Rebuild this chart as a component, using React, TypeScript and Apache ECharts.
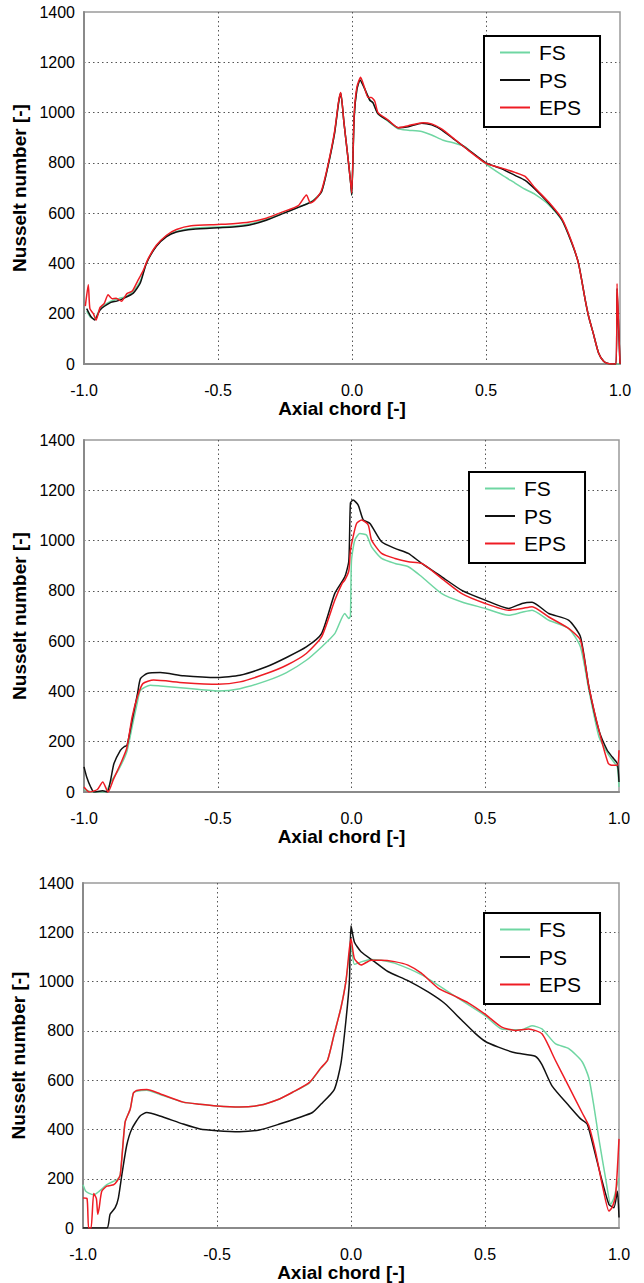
import React, { useEffect, useRef } from "react";
import * as echarts from "echarts";

// Axis ticks
const xTicks = [-1.0, -0.5, 0.0, 0.5, 1.0];
const yTicks = [0, 200, 400, 600, 800, 1000, 1200, 1400];
const seriesNames = ["FS", "PS", "EPS"];

// Panel 1
const p1FS: number[][] = [
  [-0.99, 210], [-0.975, 185], [-0.96, 180], [-0.94, 220], [-0.9, 250], [-0.87, 260], [-0.84, 270],
  [-0.816, 290], [-0.79, 330], [-0.767, 400], [-0.73, 470], [-0.692, 510], [-0.655, 527], [-0.593, 540],
  [-0.5, 545], [-0.444, 548], [-0.382, 557], [-0.32, 575], [-0.258, 600], [-0.196, 625], [-0.146, 650],
  [-0.114, 684], [-0.09, 785], [-0.065, 918], [-0.05, 1040], [-0.042, 1077], [-0.03, 960], [-0.015, 820],
  [-0.005, 720], [-0.001, 672], [0.008, 980], [0.018, 1090], [0.03, 1130], [0.045, 1100], [0.066, 1050],
  [0.078, 1040], [0.097, 995], [0.135, 965], [0.172, 935], [0.21, 930], [0.26, 925], [0.297, 911],
  [0.34, 890], [0.384, 878], [0.42, 865], [0.46, 830], [0.5, 795], [0.559, 752], [0.6, 725], [0.646, 695],
  [0.683, 675], [0.733, 635], [0.783, 572], [0.82, 481], [0.845, 401], [0.87, 256], [0.883, 189],
  [0.9, 123], [0.92, 44], [0.939, 11], [0.955, 2], [1.0, 0],
];
const p1PS: number[][] = [
  [-0.99, 220], [-0.975, 190], [-0.96, 175], [-0.94, 215], [-0.9, 245], [-0.878, 250], [-0.85, 262],
  [-0.816, 282], [-0.79, 322], [-0.767, 401], [-0.73, 468], [-0.692, 507], [-0.655, 525], [-0.593, 536],
  [-0.5, 542], [-0.444, 545], [-0.382, 553], [-0.32, 572], [-0.258, 598], [-0.196, 625], [-0.146, 648],
  [-0.114, 684], [-0.09, 785], [-0.065, 918], [-0.05, 1040], [-0.042, 1077], [-0.03, 960], [-0.015, 820],
  [-0.005, 720], [-0.001, 672], [0.008, 980], [0.018, 1090], [0.03, 1130], [0.045, 1100], [0.066, 1050],
  [0.078, 1040], [0.097, 995], [0.135, 968], [0.172, 940], [0.21, 944], [0.26, 958], [0.297, 951],
  [0.334, 931], [0.384, 891], [0.434, 852], [0.5, 800], [0.559, 776], [0.608, 750], [0.646, 730],
  [0.683, 695], [0.733, 640], [0.783, 574], [0.82, 481], [0.845, 401], [0.87, 256], [0.883, 189],
  [0.9, 123], [0.92, 44], [0.939, 11], [0.955, 2], [0.985, 0], [0.989, 300], [0.995, 140], [1.0, 0],
];
const p1EPS: number[][] = [
  [-0.995, 230], [-0.984, 315], [-0.978, 220], [-0.965, 200], [-0.955, 175], [-0.94, 225], [-0.925, 240],
  [-0.91, 275], [-0.895, 260], [-0.88, 262], [-0.86, 250], [-0.84, 280], [-0.82, 290], [-0.8, 330],
  [-0.78, 370], [-0.76, 420], [-0.73, 472], [-0.692, 512], [-0.655, 535], [-0.6, 550], [-0.5, 555],
  [-0.444, 558], [-0.382, 565], [-0.32, 580], [-0.258, 605], [-0.2, 630], [-0.17, 672], [-0.155, 640],
  [-0.14, 650], [-0.114, 690], [-0.09, 790], [-0.065, 925], [-0.05, 1045], [-0.042, 1080], [-0.03, 960],
  [-0.015, 820], [-0.005, 720], [-0.001, 680], [0.008, 990], [0.018, 1100], [0.032, 1140], [0.045, 1105],
  [0.06, 1060], [0.072, 1060], [0.085, 1045], [0.097, 1000], [0.135, 970], [0.172, 940], [0.21, 948],
  [0.265, 960], [0.297, 955], [0.334, 935], [0.384, 893], [0.434, 850], [0.5, 798], [0.559, 779],
  [0.608, 762], [0.646, 746], [0.683, 700], [0.733, 645], [0.783, 578], [0.82, 485], [0.845, 400],
  [0.87, 256], [0.883, 189], [0.9, 123], [0.92, 44], [0.939, 11], [0.955, 2], [0.985, 0], [0.989, 320],
  [0.995, 150], [1.0, 0],
];

// Panel 2
const p2FS: number[][] = [
  [-1, 10], [-0.97, 0], [-0.92, 0], [-0.9, 40], [-0.87, 90], [-0.84, 160], [-0.82, 260], [-0.8, 360],
  [-0.789, 405], [-0.752, 425], [-0.715, 422], [-0.628, 414], [-0.5, 402], [-0.417, 411], [-0.318, 442],
  [-0.243, 475], [-0.169, 524], [-0.112, 577], [-0.0625, 630], [-0.025, 710], [-0.01, 690], [-0.004, 700],
  [0.0, 922], [0.0125, 1002], [0.031, 1028], [0.056, 1022], [0.075, 975], [0.1125, 929], [0.1625, 909],
  [0.2125, 896], [0.2625, 856], [0.3375, 789], [0.4125, 756], [0.5, 730], [0.5875, 703], [0.6375, 715],
  [0.675, 723], [0.7375, 683], [0.8125, 650], [0.856, 577], [0.8875, 405], [0.925, 220], [0.96, 150],
  [0.985, 113], [0.994, 100], [1.0, 20],
];
const p2PS: number[][] = [
  [-1, 100], [-0.99, 60], [-0.975, 20], [-0.963, 0], [-0.93, 5], [-0.913, 0], [-0.9, 50], [-0.888, 113],
  [-0.864, 166], [-0.85, 180], [-0.839, 186], [-0.82, 285], [-0.8, 391], [-0.789, 451], [-0.764, 471],
  [-0.715, 475], [-0.628, 462], [-0.5, 455], [-0.417, 464], [-0.318, 498], [-0.243, 535], [-0.169, 577],
  [-0.112, 630], [-0.0625, 790], [-0.025, 856], [-0.01, 920], [-0.004, 1150], [0.006, 1161], [0.025, 1141],
  [0.044, 1082], [0.069, 1068], [0.1125, 995], [0.1625, 969], [0.2125, 949], [0.2625, 909], [0.3375, 856],
  [0.4125, 802], [0.5, 763], [0.5875, 730], [0.6375, 750], [0.675, 755], [0.7375, 710], [0.8125, 683],
  [0.856, 617], [0.8875, 418], [0.925, 245], [0.956, 166], [0.975, 139], [0.994, 113], [1.0, 40],
];
const p2EPS: number[][] = [
  [-1, 20], [-0.98, 0], [-0.95, 10], [-0.93, 40], [-0.91, 0], [-0.89, 50], [-0.86, 120], [-0.84, 175],
  [-0.82, 299], [-0.8, 380], [-0.78, 431], [-0.74, 445], [-0.628, 435], [-0.5, 429], [-0.417, 438],
  [-0.318, 471], [-0.243, 504], [-0.169, 551], [-0.112, 617], [-0.0625, 763], [-0.035, 830], [-0.025, 843],
  [-0.01, 880], [-0.004, 960], [0.006, 1015], [0.019, 1068], [0.0375, 1082], [0.0625, 1062], [0.075, 1002],
  [0.1125, 949], [0.1625, 929], [0.2125, 916], [0.2625, 909], [0.3375, 849], [0.4125, 789], [0.5, 750],
  [0.5875, 723], [0.6375, 730], [0.675, 737], [0.7375, 696], [0.8125, 650], [0.856, 604], [0.8875, 418],
  [0.925, 245], [0.96, 113], [0.975, 106], [0.994, 106], [1.0, 166],
];

// Panel 3
const p3FS: number[][] = [
  [-1, 176], [-0.99, 150], [-0.979, 142], [-0.96, 135], [-0.94, 149], [-0.911, 176], [-0.886, 190],
  [-0.874, 195], [-0.861, 216], [-0.843, 429], [-0.824, 482], [-0.812, 548], [-0.8, 555], [-0.762, 559],
  [-0.713, 542], [-0.626, 511], [-0.564, 502], [-0.5, 495], [-0.416, 491], [-0.342, 498], [-0.267, 524],
  [-0.218, 551], [-0.156, 588], [-0.1125, 648], [-0.0875, 681], [-0.0625, 788], [-0.0375, 894],
  [-0.019, 1001], [-0.006, 1110], [0.0, 1150], [0.0125, 1070], [0.0375, 1080], [0.075, 1090],
  [0.1125, 1087], [0.1625, 1075], [0.2625, 1028], [0.3875, 941], [0.5, 862], [0.5625, 808], [0.6375, 805],
  [0.675, 821], [0.7125, 808], [0.7625, 748], [0.8125, 728], [0.8625, 675], [0.8875, 609], [0.906, 497],
  [0.925, 362], [0.95, 202], [0.969, 96], [0.981, 122], [0.994, 180], [1.0, 202],
];
const p3PS: number[][] = [
  [-1, 0], [-0.911, 0], [-0.899, 56], [-0.88, 83], [-0.868, 122], [-0.855, 216], [-0.837, 335],
  [-0.818, 402], [-0.787, 455], [-0.762, 469], [-0.713, 455], [-0.626, 422], [-0.564, 402], [-0.5, 395],
  [-0.416, 391], [-0.342, 398], [-0.267, 422], [-0.193, 449], [-0.144, 469], [-0.1125, 502], [-0.0625, 562],
  [-0.0375, 668], [-0.019, 841], [-0.006, 1001], [0.0, 1227], [0.0125, 1161], [0.0375, 1121], [0.0875, 1081],
  [0.1375, 1041], [0.2125, 1004], [0.2875, 958], [0.35, 911], [0.4125, 844], [0.4625, 791], [0.5, 758],
  [0.55, 734], [0.6125, 711], [0.6875, 697], [0.7125, 663], [0.75, 577], [0.8125, 497], [0.856, 444],
  [0.881, 423], [0.9, 350], [0.931, 216], [0.9625, 96], [0.981, 83], [0.994, 149], [1.0, 43],
];
const p3EPS: number[][] = [
  [-1, 122], [-0.985, 120], [-0.979, 0], [-0.97, 0], [-0.96, 140], [-0.95, 120], [-0.945, 56], [-0.94, 80],
  [-0.93, 149], [-0.911, 170], [-0.886, 176], [-0.874, 189], [-0.861, 216], [-0.843, 429], [-0.824, 482],
  [-0.812, 548], [-0.8, 558], [-0.762, 562], [-0.713, 545], [-0.626, 511], [-0.564, 502], [-0.5, 495],
  [-0.416, 491], [-0.342, 498], [-0.267, 524], [-0.218, 551], [-0.156, 590], [-0.1125, 650], [-0.0875, 681],
  [-0.0625, 788], [-0.0375, 894], [-0.019, 1001], [-0.006, 1134], [0.0, 1174], [0.0125, 1094],
  [0.0375, 1067], [0.075, 1087], [0.1125, 1087], [0.1625, 1081], [0.2125, 1067], [0.2625, 1034],
  [0.325, 974], [0.3875, 941], [0.4375, 914], [0.5, 868], [0.5625, 815], [0.6125, 802], [0.6625, 808],
  [0.7125, 788], [0.7625, 681], [0.8125, 575], [0.8625, 468], [0.8875, 415], [0.9125, 309], [0.9375, 176],
  [0.9625, 69], [0.975, 85], [0.9875, 136], [1.0, 362],
];

const panels = [
  [p1FS, p1PS, p1EPS],
  [p2FS, p2PS, p2EPS],
  [p3FS, p3PS, p3EPS],
];

const colors = ["#6fd6a2", "#111111", "#ee1c24"];
const FONT = "Liberation Sans, Arial, Helvetica, sans-serif";

const grids = [
  { left: 84, right: 24, top: 12, height: 352 },
  { left: 84, right: 25, top: 440, height: 352 },
  { left: 83, right: 25, top: 883, height: 351 },
];
const legendPos = [
  { left: 484, top: 36 },
  { left: 469, top: 472 },
  { left: 484, top: 913 },
];

export default function App() {
  const ref = useRef<HTMLDivElement>(null);
  useEffect(() => {
    document.body.style.margin = "0";
    const chart = echarts.init(ref.current!, null, { renderer: "svg" });
    const xAxis = grids.map((_, i) => ({
      type: "value",
      gridIndex: i,
      min: xTicks[0],
      max: xTicks[xTicks.length - 1],
      interval: 0.5,
      axisLine: { show: true, onZero: false, lineStyle: { color: "#8a8a8a", width: 2 } },
      axisTick: { show: false },
      axisLabel: {
        color: "#000",
        fontSize: 16,
        margin: 18,
        fontFamily: FONT,
        formatter: (v: number) => v.toFixed(1),
      },
      splitLine: {
        show: true,
        showMinLine: false,
        showMaxLine: false,
        lineStyle: { type: [1.5, 3], color: "#555", width: 1 },
      },
      name: "Axial chord [-]",
      nameLocation: "middle",
      nameGap: 30,
      nameTextStyle: {
        fontSize: 19,
        fontWeight: "bold",
        color: "#000",
        fontFamily: FONT,
        padding: [0, 20, 0, 0],
      },
    }));
    const yAxis = grids.map((_, i) => ({
      type: "value",
      gridIndex: i,
      min: yTicks[0],
      max: yTicks[yTicks.length - 1],
      interval: 200,
      axisLine: { show: true, onZero: false, lineStyle: { color: "#8a8a8a", width: 2 } },
      axisTick: { show: false },
      axisLabel: {
        color: "#000",
        fontSize: 16,
        margin: 9,
        fontFamily: FONT,
        formatter: (v: number) => String(v),
      },
      splitLine: {
        show: true,
        showMinLine: false,
        showMaxLine: false,
        lineStyle: { type: [1.5, 3], color: "#555", width: 1 },
      },
      name: "Nusselt number [-]",
      nameLocation: "middle",
      nameGap: 48,
      nameTextStyle: { fontSize: 19, fontWeight: "bold", color: "#000", fontFamily: FONT },
    }));
    const series: any[] = [];
    panels.forEach((panel, i) => {
      panel.forEach((data, j) => {
        series.push({
          type: "line",
          name: seriesNames[j],
          xAxisIndex: i,
          yAxisIndex: i,
          data,
          symbol: "none",
          smooth: 0.2,
          lineStyle: { color: colors[j], width: 1.5 },
          itemStyle: { color: colors[j] },
          z: 3 + j,
        });
      });
    });
    const legend = legendPos.map((p) => ({
      ...p,
      orient: "vertical",
      data: seriesNames.map((n) => ({ name: n, icon: "rect" })),
      borderColor: "#000",
      borderWidth: 2,
      backgroundColor: "#fff",
      padding: [6, 19, 9, 16],
      itemGap: 6.5,
      itemWidth: 30,
      itemHeight: 2,
      selectedMode: false,
      textStyle: {
        fontSize: 21,
        lineHeight: 21,
        color: "#000",
        fontFamily: FONT,
        padding: [0, 0, 0, 4],
      },
    }));
    chart.setOption({
      animation: false,
      color: colors,
      textStyle: { fontFamily: FONT },
      grid: grids.map((g) => ({
        ...g,
        show: true,
        borderColor: "#9a9a9a",
        borderWidth: 1.5,
        backgroundColor: "transparent",
      })),
      xAxis,
      yAxis,
      legend,
      series,
    });
    return () => chart.dispose();
  }, []);
  return <div ref={ref} style={{ width: 644, height: 1283 }} />;
}
